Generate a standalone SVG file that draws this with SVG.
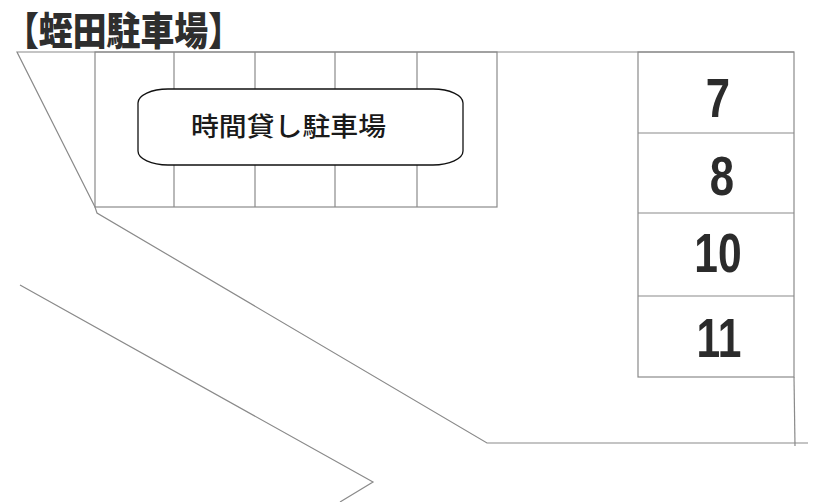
<svg xmlns="http://www.w3.org/2000/svg" width="813" height="502" viewBox="0 0 813 502">
<style>
.ln{fill:none;stroke:#8a8a8a;stroke-width:1.2}
.num{font-family:"Liberation Sans",Arial,sans-serif;font-weight:bold;font-size:56px;fill:#2b2b2b;text-anchor:middle}
.jp{font-family:"Noto Sans CJK JP","Noto Sans CJK SC",sans-serif}
</style>
<rect width="813" height="502" fill="#fff"/>
<text id="title" class="jp" x="5" y="45" font-size="39" font-weight="900" fill="#2e2e2e" textLength="237" lengthAdjust="spacingAndGlyphs">【蛭田駐車場】</text>
<g id="site">
<polyline class="ln" points="794,52 17,52 95,207 97,213 487,443 808,443"/>
<polyline class="ln" points="20,285 373,482 340,502"/>
</g>
<g id="hourly-row">
<rect class="ln" x="95" y="52" width="402" height="155"/>
<line class="ln" x1="174" y1="52" x2="174" y2="207"/>
<line class="ln" x1="255" y1="52" x2="255" y2="207"/>
<line class="ln" x1="335" y1="52" x2="335" y2="207"/>
<line class="ln" x1="417" y1="52" x2="417" y2="207"/>
</g>
<g id="hourly-label">
<rect x="138" y="89" width="325" height="76" rx="30" ry="14" fill="#fff" stroke="#111" stroke-width="1.3"/>
<text class="jp" x="191" y="136" font-size="26" font-weight="500" fill="#1a1a1a" textLength="195" lengthAdjust="spacingAndGlyphs">時間貸し駐車場</text>
</g>
<g id="right-column">
<rect class="ln" x="638" y="52" width="156" height="325"/>
<line class="ln" x1="638" y1="133" x2="794" y2="133"/>
<line class="ln" x1="638" y1="213" x2="794" y2="213"/>
<line class="ln" x1="638" y1="296" x2="794" y2="296"/>
<line class="ln" x1="794" y1="377" x2="795" y2="446"/>
</g>
<g id="space-7"><text class="num" transform="translate(718,117) scale(0.78,1)">7</text></g>
<g id="space-8"><text class="num" transform="translate(722,195) scale(0.78,1)">8</text></g>
<g id="space-10"><text class="num" transform="translate(718,272) scale(0.76,1)">10</text></g>
<g id="space-11"><text class="num" transform="translate(719,357) scale(0.76,1)">11</text></g>
</svg>
